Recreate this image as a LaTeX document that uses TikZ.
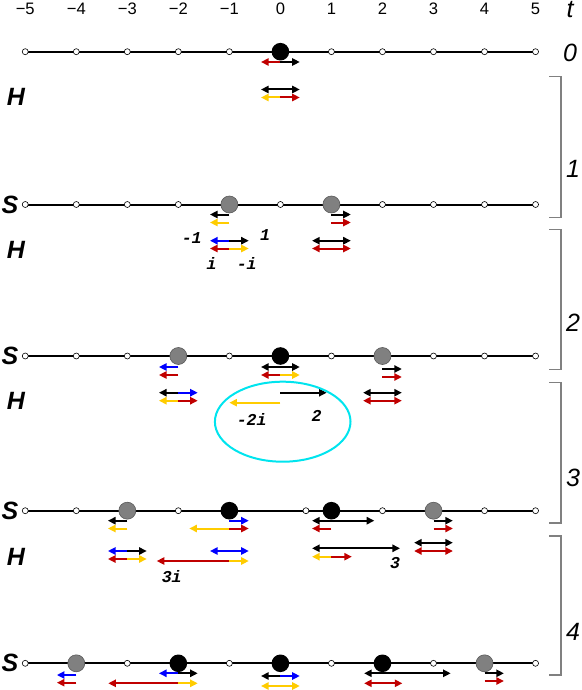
\documentclass[tikz,border=0pt]{standalone}
\usepackage{fontspec}
\setmainfont{Liberation Sans}
\newfontfamily\ampfont{Liberation Mono}
\usetikzlibrary{arrows.meta}

\definecolor{ampred}{RGB}{192,0,0}
\definecolor{ampyellow}{RGB}{255,204,0}
\definecolor{ampblue}{RGB}{0,0,255}
\definecolor{dotgray}{RGB}{128,128,128}
\definecolor{ringcyan}{RGB}{0,228,238}

\tikzset{
	site/.style={circle, draw=black, fill=white, line width=0.3pt, inner sep=0pt, minimum size=3pt},
	bdot/.style={circle, fill=black, inner sep=0pt, minimum size=8.8pt},
	gdot/.style={circle, fill=dotgray, draw=black!65, line width=0.3pt, inner sep=0pt, minimum size=8.5pt},
	chain/.style={line width=1pt},
	amp/.style={line width=1pt, -{Triangle[length=3.8pt,width=3.6pt]}},
	rowlab/.style={font=\fontsize{12.5}{14}\selectfont\bfseries\itshape},
	steplab/.style={font=\fontsize{12.5}{14}\selectfont\itshape},
	amplab/.style={font=\ampfont\fontsize{8.3}{9}\selectfont\bfseries\itshape},
	bracket/.style={draw=dotgray, line width=0.75pt},
}

% one amplitude arrow: site, height, length, colour
\newcommand{\amp}[4]{\draw[amp,#4] (#1,#2) -- ++(#3,0);}

\begin{document}
\begin{tikzpicture}[x=25.515pt, y=-0.5pt]
		\useasboundingbox (-5.495,0) rectangle (5.891,690);
		
		% Axis labels
		\foreach \x in {-5,...,-1}
		\node[font=\fontsize{8.3}{9}\selectfont] (ax\x) at (\x,8.7) {−\the\numexpr-\x\relax};
		\foreach \x in {0,...,5}
		\node[font=\fontsize{8.3}{9}\selectfont] (ax\x) at (\x,8.7) {\x};
		\node[steplab] (tlab) at (5.675,10) {t};
		\node[steplab] (n0) at (5.675,53) {0};
		
		% Row labels
		\foreach \y/\n in {204.5/1,356/2,510.7/3,663.3/4}
		\node[rowlab] (S\n) at (-5.299,\y) {S};
		\foreach \y/\n in {96.7/1,250/2,401/3,556.7/4}
		\node[rowlab] (H\n) at (-5.181,\y) {H};
		
		% Brackets for the steps
		\foreach \a/\b/\n/\l in {76.7/217.3/1/169.3, 229.3/369.3/2/323, 382.7/523/3/478, 536/675/4/632}
		{
			\draw[bracket] (5.264,\a) -- (5.499,\a) -- (5.499,\b) -- (5.264,\b);
			\node[steplab] (n\n) at (5.734,\l) {\n};
		}
		
		% t = 0
		\draw[chain] (-5,51.7) -- (5,51.7);
		\foreach \x in {-5,-4,-3,-2,-1,1,2,3,4,5}
		\node[site] (a\x) at (\x,51.7) {};
		\node[bdot] (a0) at (0,51.7) {};
		\amp{0}{62}{-0.38}{ampred}
		\amp{0}{62}{0.38}{black}
		
		% H
		\amp{0}{89.5}{-0.38}{black}
		\amp{0}{89.5}{0.38}{black}
		\amp{0}{97.5}{-0.38}{ampyellow}
		\amp{0}{97.5}{0.38}{ampred}
		
		% t = 1
		\draw[chain] (-5,204.5) -- (5,204.5);
		\foreach \x in {-5,-4,-3,-2,0,2,3,4,5}
		\node[site] (b\x) at (\x,204.5) {};
		\node[gdot] (b-1) at (-1,204.5) {};
		\node[gdot] (b1) at (1,204.5) {};
		\amp{-1}{214.5}{-0.38}{black}
		\amp{-1}{222.5}{-0.38}{ampyellow}
		\amp{1}{214.5}{0.38}{black}
		\amp{1}{222.5}{0.38}{ampred}
		
		% H
		\amp{-1}{240.7}{-0.38}{ampblue}
		\amp{-1}{240.7}{0.38}{black}
		\amp{-1}{248.5}{-0.38}{ampred}
		\amp{-1}{248.5}{0.38}{ampyellow}
		\node[amplab] (lm1) at (-1.738,238.3) {-1};
		\node[amplab] (lp1) at (-0.302,235) {1};
		\node[amplab] (lpi) at (-1.346,263.3) {i};
		\node[amplab] (lmi) at (-0.66,263) {-i};
		\amp{1}{240.7}{-0.38}{black}
		\amp{1}{240.7}{0.38}{black}
		\amp{1}{248.5}{-0.38}{ampred}
		\amp{1}{248.5}{0.38}{ampred}
		
		% t = 2
		\draw[chain] (-5,356) -- (5,356);
		\foreach \x in {-5,-4,-3,-1,1,3,4,5}
		\node[site] (c\x) at (\x,356) {};
		\node[gdot] (c-2) at (-2,356) {};
		\node[bdot] (c0) at (0,356) {};
		\node[gdot] (c2) at (2,356) {};
		\amp{-2}{367}{-0.38}{ampblue}
		\amp{-2}{375}{-0.38}{ampred}
		\amp{0}{367}{-0.38}{black}
		\amp{0}{367}{0.38}{black}
		\amp{0}{375}{-0.38}{ampred}
		\amp{0}{375}{0.38}{ampyellow}
		\amp{2}{369}{0.38}{black}
		\amp{2}{377}{0.38}{ampred}
		
		% H
		\amp{-2}{392.7}{-0.38}{black}
		\amp{-2}{392.7}{0.38}{ampblue}
		\amp{-2}{400.7}{-0.38}{ampyellow}
		\amp{-2}{400.7}{0.38}{ampred}
		\amp{0}{392.7}{0.907}{black}
		\amp{0}{402.7}{-1.0}{ampyellow}
		\node[amplab] (lm2i) at (-0.562,419.3) {-2i};
		\node[amplab] (lp2) at (0.711,416) {2};
		\draw[ringcyan, line width=1pt] (0.045,421.7) ellipse [x radius=33.9pt, y radius=20pt];
		\amp{2}{392.7}{-0.38}{black}
		\amp{2}{392.7}{0.38}{black}
		\amp{2}{400.7}{-0.38}{ampred}
		\amp{2}{400.7}{0.38}{ampred}
		
		% t = 3
		\draw[chain] (-5,510.7) -- (5,510.7);
		\foreach \x in {-5,-4,-2,0.5,2,4,5}
		\node[site] (d\x) at (\x,510.7) {};
		\node[gdot] (d-3) at (-3,510.7) {};
		\node[bdot] (d-1) at (-1,510.7) {};
		\node[bdot] (d1) at (1,510.7) {};
		\node[gdot] (d3) at (3,510.7) {};
		\amp{-3}{520.7}{-0.38}{black}
		\amp{-3}{528.5}{-0.38}{ampyellow}
		\amp{-1}{520.7}{0.38}{ampblue}
		\amp{-1}{528.5}{-0.785}{ampyellow}
		\amp{-1}{528.5}{0.38}{ampred}
		\amp{1}{520.7}{-0.38}{black}
		\amp{1}{520.7}{0.84}{black}
		\amp{1}{528.5}{-0.38}{ampred}
		\amp{3}{520.7}{0.38}{black}
		\amp{3}{528.5}{0.38}{ampred}
		
		% H
		\amp{-3}{551}{-0.38}{ampblue}
		\amp{-3}{551}{0.38}{black}
		\amp{-3}{559}{-0.38}{ampred}
		\amp{-3}{559}{0.38}{ampyellow}
		\amp{-1}{551}{-0.38}{ampblue}
		\amp{-1}{551}{0.38}{ampblue}
		\amp{-1}{561}{-1.424}{ampred}
		\amp{-1}{561}{0.38}{ampyellow}
		\node[amplab] (lp3i) at (-2.13,576.7) {3i};
		\amp{1}{548.3}{-0.38}{black}
		\amp{1}{548.3}{1.344}{black}
		\amp{1}{556.7}{-0.38}{ampyellow}
		\amp{1}{556.7}{0.4}{ampred}
		\node[amplab] (lp3) at (2.246,563.3) {3};
		\amp{3}{542.7}{-0.38}{black}
		\amp{3}{542.7}{0.38}{black}
		\amp{3}{551}{-0.38}{ampred}
		\amp{3}{551}{0.38}{ampred}
		
		% t = 4
		\draw[chain] (-5,663.3) -- (5,663.3);
		\foreach \x in {-5,-3,-1,1,3,5}
		\node[site] (e\x) at (\x,663.3) {};
		\node[gdot] (e-4) at (-4,663.3) {};
		\node[bdot] (e-2) at (-2,663.3) {};
		\node[bdot] (e0) at (0,663.3) {};
		\node[bdot] (e2) at (2,663.3) {};
		\node[gdot] (e4) at (4,663.3) {};
		\amp{-4}{675}{-0.38}{ampblue}
		\amp{-4}{682.7}{-0.38}{ampred}
		\amp{-2}{673.3}{-0.38}{ampblue}
		\amp{-2}{673.3}{0.38}{black}
		\amp{-2}{683.3}{-1.373}{ampred}
		\amp{-2}{683.3}{0.38}{ampyellow}
		\amp{0}{676}{-0.38}{black}
		\amp{0}{676}{0.38}{ampblue}
		\amp{0}{686}{-0.38}{ampyellow}
		\amp{0}{686}{0.38}{ampyellow}
		\amp{2}{673.3}{-0.36}{black}
		\amp{2}{673.3}{1.337}{black}
		\amp{2}{683.3}{-0.36}{ampred}
		\amp{2}{683.3}{0.39}{ampred}
		\amp{4}{673.3}{0.38}{black}
		\amp{4}{681}{0.38}{ampred}
	\end{tikzpicture}
\end{document}
